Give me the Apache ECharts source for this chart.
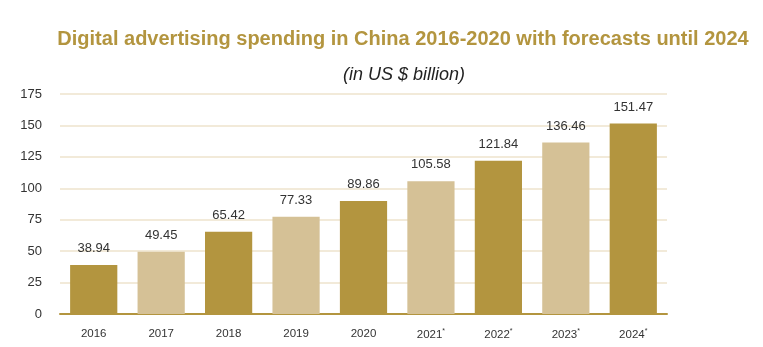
<!DOCTYPE html>
<html><head><meta charset="utf-8">
<script src="https://cdn.jsdelivr.net/npm/echarts@6/dist/echarts.min.js"></script>
<style>html,body{margin:0;padding:0;background:#fff}#c{width:763px;height:347px}</style>
</head><body><div id="c"></div>
<script>
const categories = ['2016','2017','2018','2019','2020','2021','2022','2023','2024'];
const forecast = [false,false,false,false,false,true,true,true,true];
const values = [38.94,49.45,65.42,77.33,89.86,105.58,121.84,136.46,151.47];
const yTicks = [0,25,50,75,100,125,150,175];
const dark = '#B3953F', light = '#D5C196';
const chart = echarts.init(document.getElementById('c'));
chart.setOption({
  animation:false,
  title:[{text:'Digital advertising spending in China 2016-2020 with forecasts until 2024',left:398,top:24,textAlign:'center',
    textStyle:{color:'#B3953F',fontSize:20,fontWeight:'bold',fontFamily:'Liberation Sans'}},
    {text:'(in US $ billion)',left:399,top:61,textAlign:'center',textStyle:{color:'#222',fontSize:18,fontStyle:'italic',fontWeight:'normal',fontFamily:'Liberation Sans'}}],
  grid:{left:60,right:96,top:94,bottom:33},
  xAxis:{type:'category',data:categories,axisTick:{show:false},
    axisLine:{lineStyle:{color:'#B3953F',width:2}},
    axisLabel:{margin:14,color:'#333',fontSize:11.5,fontFamily:'Liberation Sans',
      formatter:(v,i)=>forecast[categories.indexOf(v)]?v+'{s|*}':v,
      rich:{s:{fontSize:7,verticalAlign:'top',padding:[0,0,6,0],color:'#333'}}}},
  yAxis:{type:'value',min:0,max:175,interval:25,axisLine:{show:false},axisTick:{show:false},
    splitLine:{lineStyle:{color:'#EEE3CC',width:1.5}},
    axisLabel:{color:'#333',fontSize:13,margin:18,fontFamily:'Liberation Sans',
      formatter:v=>yTicks.includes(v)?String(v):''}},
  series:[{type:'bar',barCategoryGap:'30%',
    data:values.map((v,i)=>({value:v,itemStyle:{color:i%2===0?dark:light}})),
    label:{show:true,position:'top',distance:10,color:'#333',fontSize:13,fontFamily:'Liberation Sans',formatter:p=>p.value.toFixed(2)}}]
});
</script></body></html>
